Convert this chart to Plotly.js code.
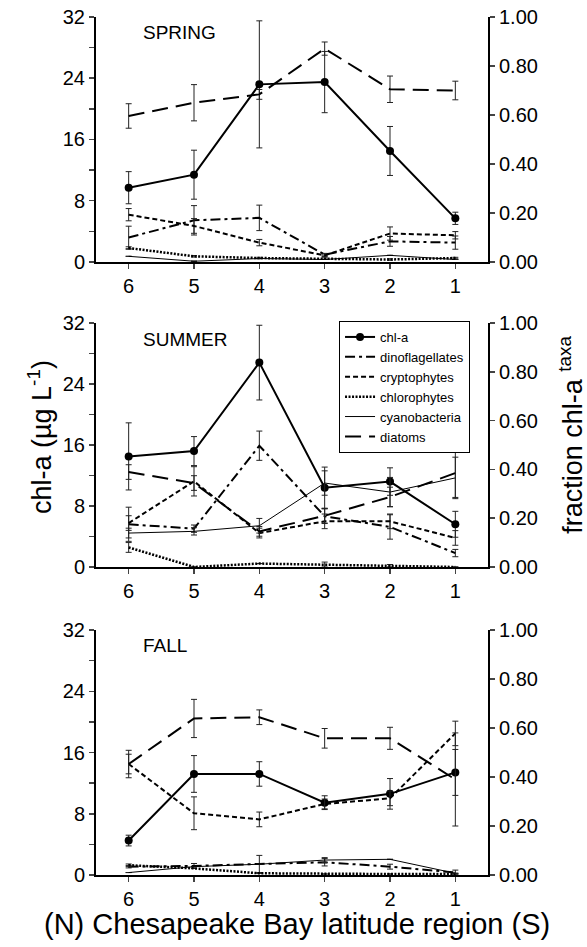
<!DOCTYPE html>
<html>
<head>
<meta charset="utf-8">
<script src="https://cdn.plot.ly/plotly-3.0.1.min.js"></script>
<style>html,body{margin:0;padding:0;background:#fff;}#chart{width:587px;height:947px;}</style>
</head>
<body>
<div id="chart"></div>
<script>
// ---- data ----
const regions = [6, 5, 4, 3, 2, 1];
const seasons = ["SPRING", "SUMMER", "FALL"];

// chl-a (ug L-1), left axis
const chlaSpring    = [9.7, 11.4, 23.2, 23.5, 14.5, 5.7];
const chlaSpringErr = [2.1, 3.2, 8.3, 4.0, 3.2, 0.8];
const chlaSummer    = [14.5, 15.2, 26.8, 10.4, 11.2, 5.6];
const chlaSummerErr = [4.4, 1.9, 4.9, 2.7, 1.8, 1.7];
const chlaFall      = [4.5, 13.2, 13.2, 9.45, 10.6, 13.4];
const chlaFallErr   = [0.7, 2.4, 1.6, 0.9, 2.0, 3.0];

// fraction chl-a taxa, right axis
const dinoSpring      = [0.10, 0.17, 0.18, 0.03, 0.084, 0.079];
const dinoSpringErr   = [0.046, 0.06, 0.052, 0.005, 0.02, 0.027];
const cryptoSpring    = [0.193, 0.147, 0.079, 0.027, 0.116, 0.109];
const cryptoSpringErr = [0.025, 0.03, 0.013, 0.005, 0.027, 0.015];
const chloroSpring    = [0.057, 0.023, 0.016, 0.014, 0.01, 0.016];
const chloroSpringErr = [0.005, 0.003, 0.003, 0.003, 0.003, 0.003];
const cyanoSpring     = [0.023, 0.003, 0.014, 0.01, 0.027, 0.01];
const cyanoSpringErr  = [0, 0, 0, 0, 0, 0];
const diatomSpring    = [0.596, 0.65, 0.684, 0.871, 0.705, 0.70];
const diatomSpringErr = [0.05, 0.074, 0.02, 0.027, 0.054, 0.038];

const dinoSummer      = [0.175, 0.157, 0.497, 0.208, 0.164, 0.057];
const dinoSummerErr   = [0.07, 0.015, 0.06, 0.03, 0.05, 0.015];
const cryptoSummer    = [0.18, 0.351, 0.139, 0.187, 0.187, 0.119];
const cryptoSummerErr = [0.03, 0.06, 0.02, 0.03, 0.03, 0.03];
const chloroSummer    = [0.08, 0.0, 0.014, 0.01, 0.005, 0.0];
const chloroSummerErr = [0.02, 0, 0, 0.01, 0.005, 0];
const cyanoSummer     = [0.139, 0.146, 0.169, 0.344, 0.307, 0.365];
const cyanoSummerErr  = [0.02, 0.015, 0.03, 0.05, 0.06, 0.085];
const diatomSummer    = [0.389, 0.344, 0.146, 0.21, 0.287, 0.385];
const diatomSummerErr = [0.03, 0.03, 0.02, 0.03, 0.04, 0.1];

const dinoFall      = [0.034, 0.037, 0.045, 0.052, 0.034, 0.01];
const dinoFallErr   = [0.005, 0.01, 0.035, 0.015, 0.01, 0.01];
const cryptoFall    = [0.453, 0.252, 0.227, 0.29, 0.313, 0.578];
const cryptoFallErr = [0.04, 0.067, 0.03, 0.02, 0.03, 0.05];
const chloroFall    = [0.04, 0.027, 0.007, 0.004, 0.004, 0.004];
const chloroFallErr = [0.005, 0, 0, 0, 0, 0];
const cyanoFall     = [0.01, 0.034, 0.044, 0.061, 0.064, 0.007];
const cyanoFallErr  = [0, 0, 0, 0.01, 0, 0];
const diatomFall    = [0.453, 0.639, 0.644, 0.558, 0.558, 0.39];
const diatomFallErr = [0.056, 0.078, 0.03, 0.04, 0.045, 0.19];

const taxaNames = ["dinoflagellates", "cryptophytes", "chlorophytes", "cyanobacteria", "diatoms"];

// ---- styles ----
const taxaStyles = {
  dinoflagellates: {width: 2, dash: "10px,4px,3px,4px"},
  cryptophytes:    {width: 2, dash: "5px,3px"},
  chlorophytes:    {width: 2.5, dash: "2px,1.5px"},
  cyanobacteria:   {width: 1, dash: "solid"},
  diatoms:         {width: 2, dash: "16px,8px"}
};

const panelData = [
  {chla: chlaSpring, chlaErr: chlaSpringErr,
   taxa: [[dinoSpring, dinoSpringErr], [cryptoSpring, cryptoSpringErr], [chloroSpring, chloroSpringErr], [cyanoSpring, cyanoSpringErr], [diatomSpring, diatomSpringErr]]},
  {chla: chlaSummer, chlaErr: chlaSummerErr,
   taxa: [[dinoSummer, dinoSummerErr], [cryptoSummer, cryptoSummerErr], [chloroSummer, chloroSummerErr], [cyanoSummer, cyanoSummerErr], [diatomSummer, diatomSummerErr]]},
  {chla: chlaFall, chlaErr: chlaFallErr,
   taxa: [[dinoFall, dinoFallErr], [cryptoFall, cryptoFallErr], [chloroFall, chloroFallErr], [cyanoFall, cyanoFallErr], [diatomFall, diatomFallErr]]}
];

const errStyle = (arr) => ({type: "data", array: arr, visible: true, color: "#222", thickness: 1, width: 3});

const traces = [];
panelData.forEach((p, i) => {
  const xa = i === 0 ? "x" : "x" + (i + 1);
  const yl = i === 0 ? "y" : "y" + (2 * i + 1);
  const yr = "y" + (2 * i + 2);
  const legendOn = i === 1;
  traces.push({
    x: regions, y: p.chla, xaxis: xa, yaxis: yl, name: "chl-a", mode: "lines+markers",
    line: {color: "black", width: 2}, marker: {color: "black", size: 8},
    error_y: errStyle(p.chlaErr), showlegend: legendOn, legendrank: 1
  });
  p.taxa.forEach((t, k) => {
    const nm = taxaNames[k];
    traces.push({
      x: regions, y: t[0], xaxis: xa, yaxis: yr, name: nm, mode: "lines",
      line: Object.assign({color: "black"}, taxaStyles[nm]),
      error_y: errStyle(t[1]), showlegend: legendOn, legendrank: k + 2
    });
  });
});

const font = "Liberation Sans, Arial, sans-serif";
const domains = [[0.7145, 1], [0.359, 0.6434], [0, 0.2855]];
const layout = {
  width: 587, height: 947,
  margin: {l: 96, r: 99, t: 17, b: 72, pad: 0},
  paper_bgcolor: "white", plot_bgcolor: "white",
  font: {family: font, color: "black", size: 20},
  showlegend: true,
  legend: {x: 0.62, y: 0.6457, xanchor: "left", yanchor: "top",
           bgcolor: "white", bordercolor: "black", borderwidth: 1,
           font: {size: 13, family: font}, tracegroupgap: 0, traceorder: "normal"},
  annotations: [],
};

domains.forEach((d, i) => {
  const xk = i === 0 ? "xaxis" : "xaxis" + (i + 1);
  const ylk = i === 0 ? "yaxis" : "yaxis" + (2 * i + 1);
  const yrk = "yaxis" + (2 * i + 2);
  const ylName = i === 0 ? "y" : "y" + (2 * i + 1);
  const xName = i === 0 ? "x" : "x" + (i + 1);
  layout[xk] = {
    domain: [0, 1], anchor: ylName, range: [6.5, 0.5],
    tickmode: "array", tickvals: regions, ticktext: regions.map(String),
    ticks: "outside", ticklen: 5, tickwidth: 1.5,
    showline: true, linewidth: 2, linecolor: "black",
    showgrid: false, zeroline: false, tickfont: {size: 20}
  };
  layout[ylk] = {
    domain: d, anchor: xName, range: [0, 32],
    tickmode: "linear", tick0: 0, dtick: 8,
    ticks: "outside", ticklen: 5, tickwidth: 1.5,
    minor: {tickmode: "linear", tick0: 0, dtick: 4, ticks: "outside", ticklen: 5, tickwidth: 1.5, showgrid: false},
    showline: true, linewidth: 2, linecolor: "black",
    showgrid: false, zeroline: false, tickfont: {size: 20}
  };
  layout[yrk] = {
    domain: d, anchor: xName, overlaying: ylName, side: "right", range: [0, 1],
    tickmode: "linear", tick0: 0, dtick: 0.2, tickformat: ".2f",
    ticks: "outside", ticklen: 5, tickwidth: 1.5,
    showline: true, linewidth: 2, linecolor: "black",
    showgrid: false, zeroline: false, tickfont: {size: 20}
  };
});

const labelY = [0.9825, 0.6247, 0.268];
seasons.forEach((s, i) => {
  layout.annotations.push({
    text: s, xref: "paper", yref: "paper", x: 0.1148, y: labelY[i],
    xanchor: "left", yanchor: "middle", showarrow: false, font: {size: 19}
  });
});
layout.annotations.push({
  text: "chl-a (µg L<sup>-1</sup>)", xref: "paper", yref: "paper",
  x: (40 - 96) / 392, y: 0.5105, xanchor: "center", yanchor: "middle",
  textangle: -90, showarrow: false, font: {size: 27}
});
layout.annotations.push({
  text: "fraction chl-a <sup>taxa</sup>", xref: "paper", yref: "paper",
  x: (571 - 96) / 392, y: 0.513, xanchor: "center", yanchor: "middle",
  textangle: -90, showarrow: false, font: {size: 27}
});
layout.annotations.push({
  text: "(N) Chesapeake Bay latitude region (S)", xref: "paper", yref: "paper",
  x: (297 - 96) / 392, y: -(924 - 875) / 858, xanchor: "center", yanchor: "middle",
  showarrow: false, font: {size: 29}
});

Plotly.newPlot("chart", traces, layout, {displayModeBar: false, staticPlot: true});
</script>
</body>
</html>
